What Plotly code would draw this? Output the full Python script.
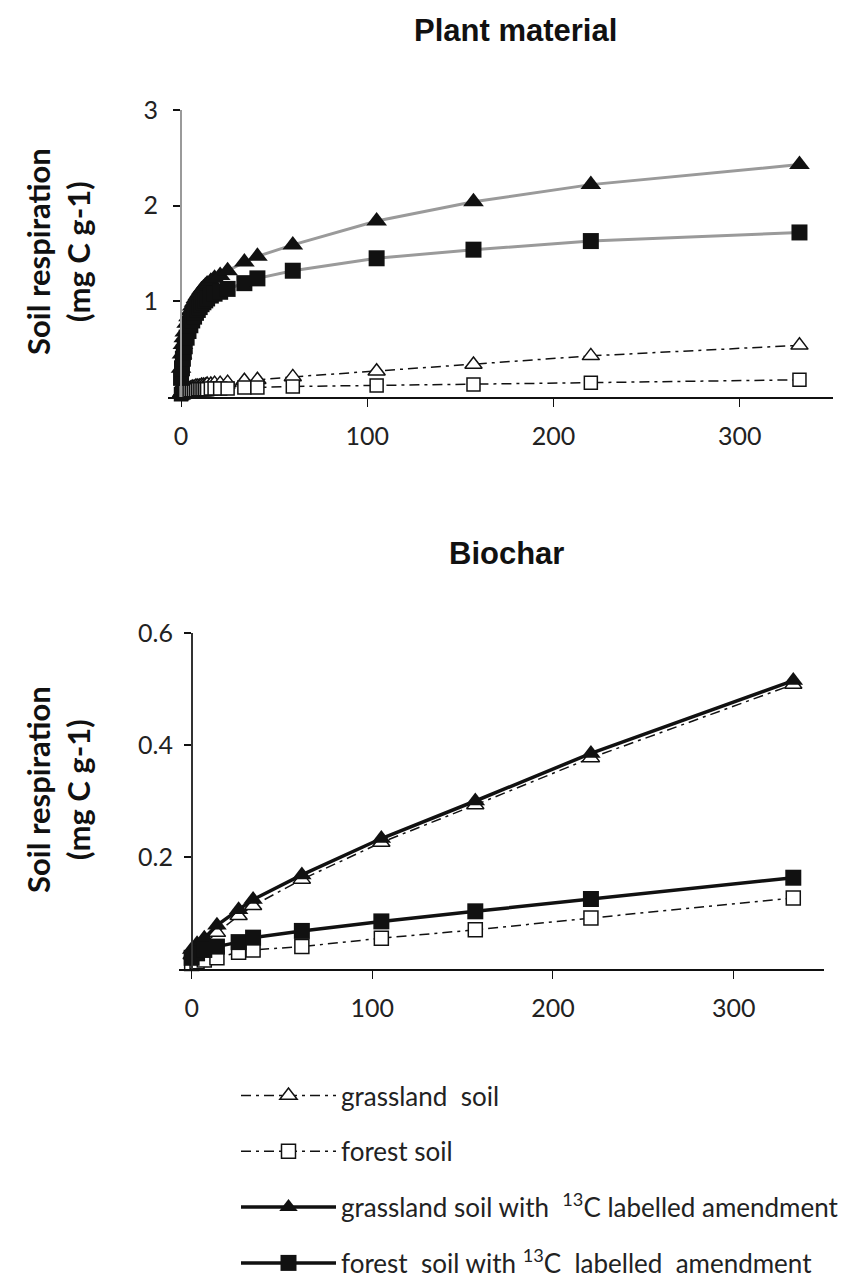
import plotly.graph_objects as go

# ---------------- data ----------------
# Plant material (days, mg C g-1)
plant_days = [0, 0.5, 1, 1.5, 2, 3, 4, 5, 6, 7, 8, 9, 10, 11, 12, 13, 14, 16, 18, 21,
              25, 34, 41, 60, 105, 157, 220, 332]
plant_grass = [0.04, 0.05, 0.06, 0.07, 0.07, 0.08, 0.09, 0.09, 0.10, 0.10, 0.11, 0.11, 0.11, 0.12,
               0.12, 0.12, 0.13, 0.13, 0.14, 0.14, 0.15, 0.17, 0.18, 0.21, 0.27, 0.34, 0.43, 0.54]
plant_forest = [0.03, 0.04, 0.05, 0.05, 0.06, 0.06, 0.06, 0.07, 0.07, 0.07, 0.07, 0.08, 0.08, 0.08,
                0.08, 0.08, 0.08, 0.09, 0.09, 0.09, 0.09, 0.10, 0.10, 0.11, 0.12, 0.13, 0.15, 0.18]
plant_grass_lab = [0.30, 0.45, 0.55, 0.62, 0.68, 0.77, 0.84, 0.90, 0.95, 0.99, 1.03, 1.06, 1.09, 1.12,
                   1.14, 1.16, 1.18, 1.21, 1.24, 1.27, 1.32, 1.41, 1.47, 1.59, 1.84, 2.04, 2.22, 2.43]
plant_forest_lab = [0.20, 0.30, 0.40, 0.47, 0.53, 0.62, 0.69, 0.75, 0.80, 0.84, 0.88, 0.91, 0.94, 0.97,
                    0.99, 1.01, 1.03, 1.06, 1.08, 1.10, 1.13, 1.19, 1.24, 1.32, 1.45, 1.54, 1.63, 1.72]

# Biochar
bio_days = [0, 3, 7, 14, 26, 34, 61, 105, 157, 221, 333]
bio_grass = [0.025, 0.035, 0.045, 0.065, 0.095, 0.113, 0.160, 0.226, 0.293, 0.377, 0.508]
bio_forest = [0.010, 0.013, 0.016, 0.020, 0.030, 0.034, 0.040, 0.055, 0.070, 0.091, 0.127]
bio_grass_lab = [0.035, 0.045, 0.055, 0.078, 0.106, 0.124, 0.168, 0.233, 0.300, 0.385, 0.515]
bio_forest_lab = [0.020, 0.028, 0.034, 0.040, 0.048, 0.056, 0.068, 0.085, 0.103, 0.125, 0.163]

names = ["grassland  soil", "forest soil",
         "grassland soil with  <sup>13</sup>C labelled amendment",
         "forest  soil with <sup>13</sup>C  labelled  amendment"]

x_ticks = [0, 100, 200, 300]
plant_yticks = [1, 2, 3]
bio_yticks = [0.2, 0.4, 0.6]
bio_yticktext = ["0.2", "0.4", "0.6"]
x_range = [-7, 350]

# ---------------- layout geometry ----------------
# the page body adds an 8px margin, so the figure is drawn 8px smaller and
# all window positions are shifted by that offset
OFF = 8
W, H = 858 - OFF, 1282 - OFF


def px(xw):
    return (xw - OFF) / W


def py(yw):
    return (H - (yw - OFF)) / H


top_xd = [px(168), px(833)]
top_yd = [py(397), py(110)]
bot_xd = [px(179), px(824)]
bot_yd = [py(969), py(633)]


def zero_pos(dom):
    return dom[0] + (0 - x_range[0]) / (x_range[1] - x_range[0]) * (dom[1] - dom[0])


FONT = "Lato, Carlito, Calibri, sans-serif"
DASHDOT = "10px,5px,3px,5px"
BLACK = "#111111"

fig = go.Figure()

# ---- top: plant material ----
fig.add_trace(go.Scatter(x=plant_days, y=plant_grass, mode="lines+markers", xaxis="x", yaxis="y",
                         line=dict(color=BLACK, width=1.5, dash=DASHDOT),
                         marker=dict(symbol="triangle-up", size=15, color="white",
                                     line=dict(color=BLACK, width=1.5)),
                         showlegend=False, cliponaxis=False))
fig.add_trace(go.Scatter(x=plant_days, y=plant_forest, mode="lines+markers", xaxis="x", yaxis="y",
                         line=dict(color=BLACK, width=1.5, dash=DASHDOT),
                         marker=dict(symbol="square", size=13, color="white",
                                     line=dict(color=BLACK, width=1.5)),
                         showlegend=False, cliponaxis=False))
fig.add_trace(go.Scatter(x=plant_days, y=plant_grass_lab, mode="lines+markers", xaxis="x", yaxis="y",
                         line=dict(color="#9a9a9a", width=3),
                         marker=dict(symbol="triangle-up", size=18, color=BLACK),
                         showlegend=False, cliponaxis=False))
fig.add_trace(go.Scatter(x=plant_days, y=plant_forest_lab, mode="lines+markers", xaxis="x", yaxis="y",
                         line=dict(color="#9a9a9a", width=3),
                         marker=dict(symbol="square", size=16, color=BLACK),
                         showlegend=False, cliponaxis=False))

# ---- bottom: biochar ----
fig.add_trace(go.Scatter(x=bio_days, y=bio_grass, mode="lines+markers", xaxis="x2", yaxis="y2",
                         name=names[0], legendgroup="a", legendrank=1,
                         line=dict(color=BLACK, width=1.5, dash=DASHDOT),
                         marker=dict(symbol="triangle-up", size=15, color="white",
                                     line=dict(color=BLACK, width=1.5)),
                         cliponaxis=False))
fig.add_trace(go.Scatter(x=bio_days, y=bio_forest, mode="lines+markers", xaxis="x2", yaxis="y2",
                         name=names[1], legendgroup="b", legendrank=2,
                         line=dict(color=BLACK, width=1.5, dash=DASHDOT),
                         marker=dict(symbol="square", size=14, color="white",
                                     line=dict(color=BLACK, width=1.5)),
                         cliponaxis=False))
fig.add_trace(go.Scatter(x=bio_days, y=bio_grass_lab, mode="lines+markers", xaxis="x2", yaxis="y2",
                         name=names[2], legendgroup="c", legendrank=3,
                         line=dict(color=BLACK, width=3.5),
                         marker=dict(symbol="triangle-up", size=17, color=BLACK),
                         cliponaxis=False))
fig.add_trace(go.Scatter(x=bio_days, y=bio_forest_lab, mode="lines+markers", xaxis="x2", yaxis="y2",
                         name=names[3], legendgroup="d", legendrank=4,
                         line=dict(color=BLACK, width=3.5),
                         marker=dict(symbol="square", size=16, color=BLACK),
                         cliponaxis=False))

tickfont = dict(family=FONT, size=25, color="#222222")

fig.update_layout(
    width=W, height=H,
    margin=dict(l=0, r=0, t=0, b=0, autoexpand=False),
    paper_bgcolor="white", plot_bgcolor="white",
    showlegend=True,
    xaxis=dict(domain=top_xd, range=x_range, anchor="y", tickvals=x_ticks, automargin=False,
               showline=True, linecolor=BLACK, linewidth=1.5, ticks="outside",
               ticklen=8, tickcolor=BLACK, tickwidth=1, showgrid=False, zeroline=False,
               tickfont=tickfont, ticklabelstandoff=8),
    yaxis=dict(domain=top_yd, range=[0, 3], anchor="free", position=zero_pos(top_xd),
               automargin=False,
               tickvals=plant_yticks, showline=True, linecolor="#9a9a9a", linewidth=2,
               ticks="outside", ticklen=7, tickcolor=BLACK, tickwidth=1.5,
               showgrid=False, zeroline=False, tickfont=tickfont, ticklabelstandoff=10),
    xaxis2=dict(domain=bot_xd, range=x_range, anchor="y2", tickvals=x_ticks, automargin=False,
                showline=True, linecolor=BLACK, linewidth=2, ticks="outside",
                ticklen=8, tickcolor=BLACK, tickwidth=1, showgrid=False, zeroline=False,
                tickfont=tickfont, ticklabelstandoff=8),
    yaxis2=dict(domain=bot_yd, range=[0, 0.6], anchor="free", position=zero_pos(bot_xd),
                automargin=False,
                tickvals=bio_yticks, ticktext=bio_yticktext, showline=True, linecolor="#333333",
                linewidth=1.5, ticks="outside", ticklen=7, tickcolor=BLACK, tickwidth=1.5,
                showgrid=False, zeroline=False, tickfont=tickfont, ticklabelstandoff=6),
    legend=dict(x=px(236), y=-0.004, xanchor="left", yanchor="bottom",
                font=dict(family=FONT, size=26, color="#222222"),
                itemwidth=95, tracegroupgap=19, bgcolor="rgba(0,0,0,0)"),
    annotations=[
        dict(text="<b>Plant material</b>", x=px(515), y=py(30), xref="paper", yref="paper",
             xanchor="center", yanchor="middle", showarrow=False,
             font=dict(family="Liberation Sans, Arial", size=31, color=BLACK)),
        dict(text="<b>Biochar</b>", x=px(506), y=py(553), xref="paper", yref="paper",
             xanchor="center", yanchor="middle", showarrow=False,
             font=dict(family="Liberation Sans, Arial", size=31, color=BLACK)),
        dict(text="<b>Soil respiration<br>(mg C g-1)</b>", x=px(58), y=py(252),
             xref="paper", yref="paper", xanchor="center", yanchor="middle",
             showarrow=False, textangle=-90,
             font=dict(family=FONT, size=31, color=BLACK)),
        dict(text="<b>Soil respiration<br>(mg C g-1)</b>", x=px(58), y=py(790),
             xref="paper", yref="paper", xanchor="center", yanchor="middle",
             showarrow=False, textangle=-90,
             font=dict(family=FONT, size=31, color=BLACK)),
    ],
)

fig.write_html("out.html")
